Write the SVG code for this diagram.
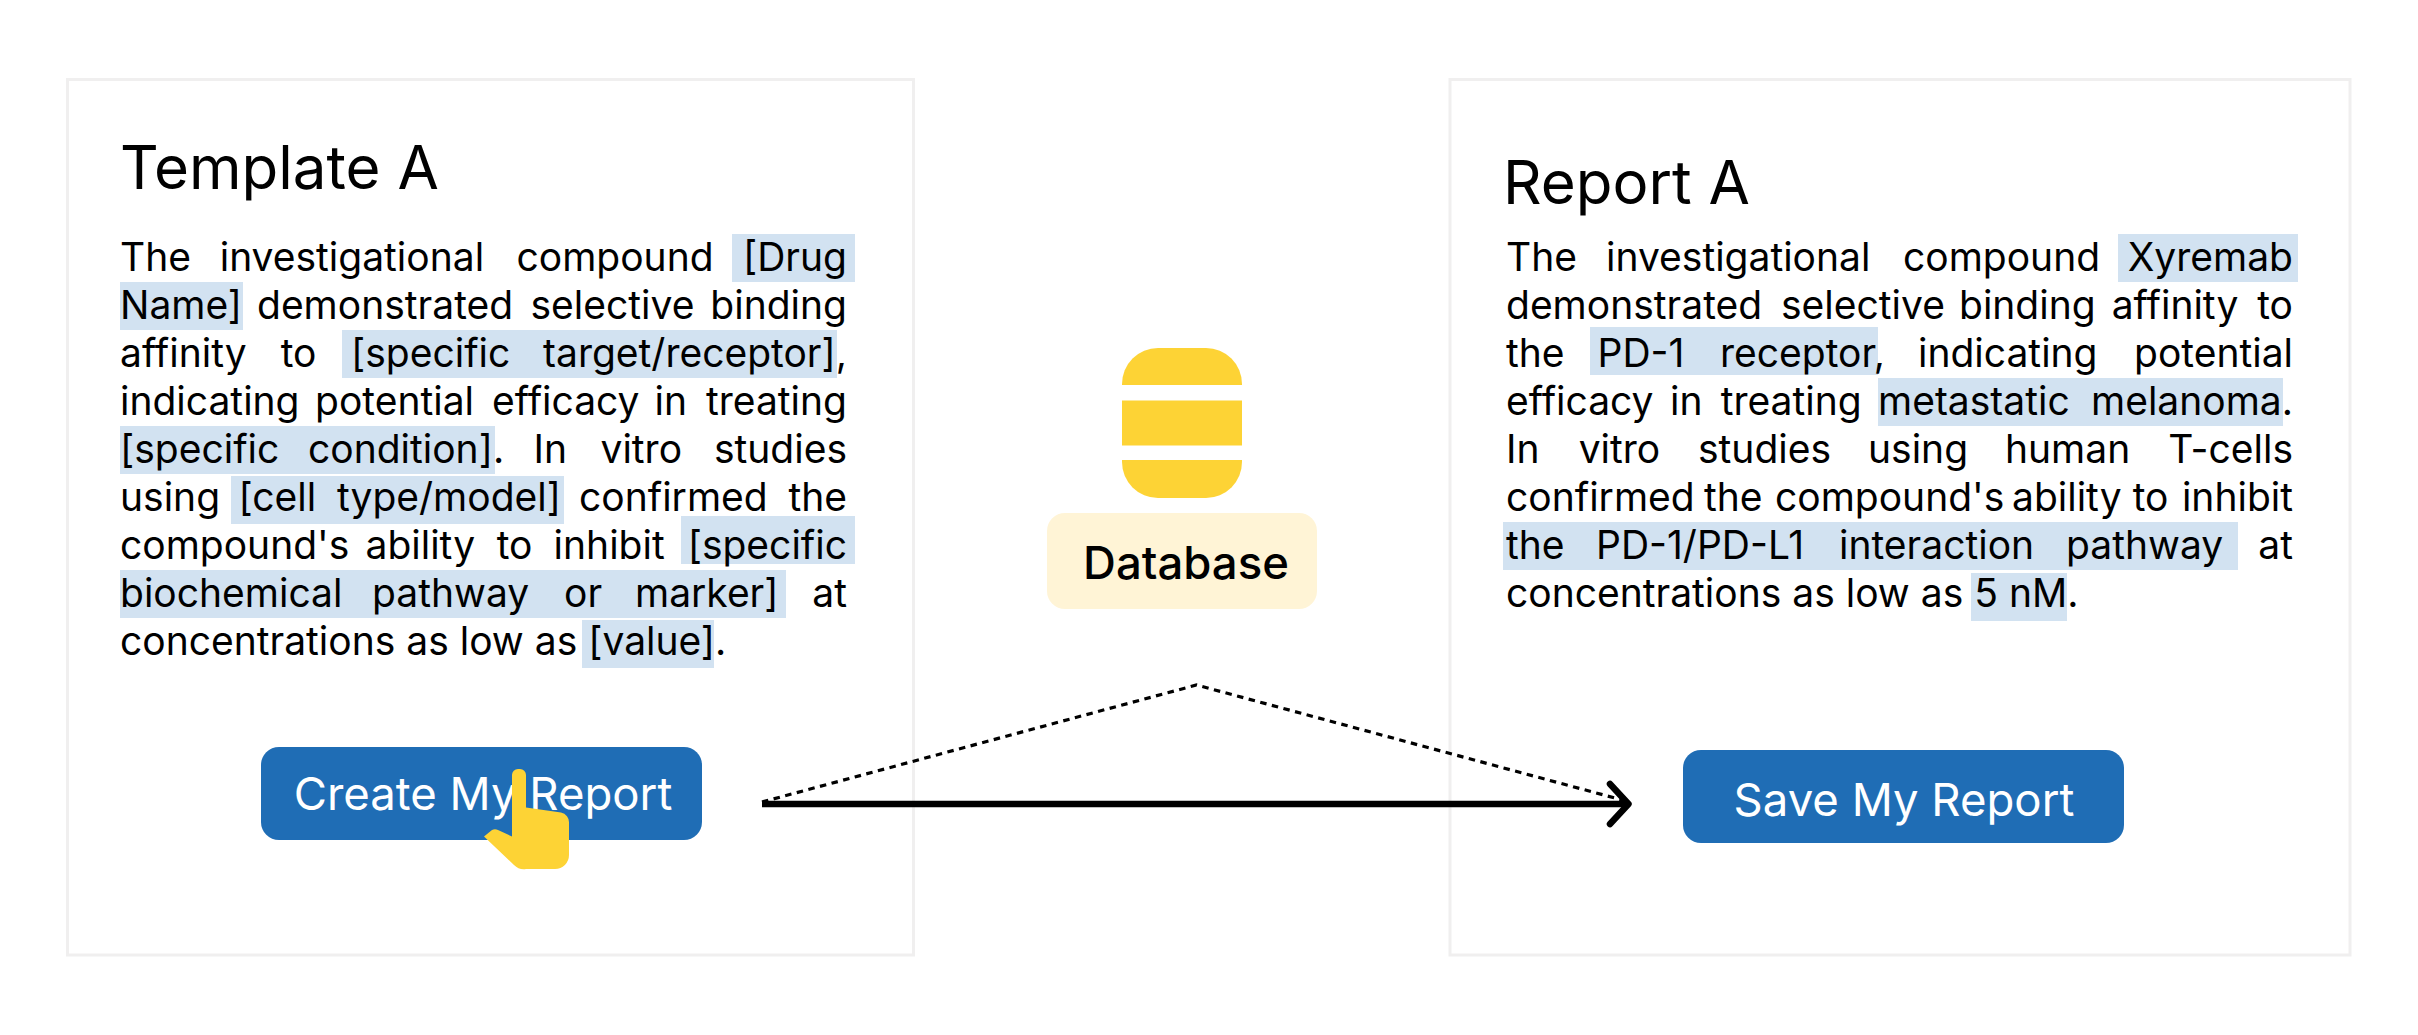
<svg xmlns="http://www.w3.org/2000/svg" width="2418" height="1035" viewBox="0 0 2418 1035">
<style>
text{font-family:Inter,"Noto Sans","Liberation Sans",sans-serif;fill:#000}
.card{fill:#fff;stroke:#f0efef;stroke-width:3}
.hl{fill:#d2e2f1}
.body{font-size:39px}
.end{text-anchor:end}
.title{font-size:60px}
.btn{fill:#1f6db5}
.btnt{font-size:45.500px;fill:#fff}
.y{fill:#fdd335}
.dot{fill:none;stroke:#000;stroke-width:3.200;stroke-dasharray:6.500 5.500}
.sol{fill:none;stroke:#000;stroke-width:6.500}
.head{fill:none;stroke:#000;stroke-width:6.500;stroke-linecap:round;stroke-linejoin:round}
</style>
<rect width="2418" height="1035" fill="#fff"/>
<g id="template-card">
<rect class="card" x="67.500" y="79.500" width="846" height="875.500"/>
<text class="title" x="120" y="189">Template A</text>
<rect class="hl" x="732" y="234" width="123" height="48"/>
<rect class="hl" x="120" y="282" width="123" height="48"/>
<rect class="hl" x="342" y="330" width="495" height="48"/>
<rect class="hl" x="120" y="426" width="375" height="48"/>
<rect class="hl" x="231" y="476" width="333" height="48"/>
<rect class="hl" x="681" y="516" width="174" height="48"/>
<rect class="hl" x="120" y="570" width="666" height="48"/>
<rect class="hl" x="582" y="620" width="132" height="48"/>
<g class="body">
<text class="body" y="271"><tspan x="120">The</tspan> <tspan x="219.700">investigational</tspan> <tspan x="516.500">compound</tspan></text><text class="body end" x="847" y="271">[Drug</text>
<text class="body" y="319"><tspan x="120">Name]</tspan> <tspan x="257">demonstrated</tspan> <tspan x="530.500">selective</tspan></text><text class="body end" x="847" y="319">binding</text>
<text class="body" y="367"><tspan x="120">affinity</tspan> <tspan x="280.700">to</tspan> <tspan x="351">[specific</tspan></text><text class="body end" x="847" y="367">target/receptor],</text>
<text class="body" y="415"><tspan x="120">indicating</tspan> <tspan x="315">potential</tspan> <tspan x="492">efficacy</tspan> <tspan x="654.600">in</tspan></text><text class="body end" x="847" y="415">treating</text>
<text class="body" y="463"><tspan x="120">[specific</tspan> <tspan x="308">condition].</tspan> <tspan x="533.500">In</tspan> <tspan x="600.500">vitro</tspan></text><text class="body end" x="847" y="463">studies</text>
<text class="body" y="511"><tspan x="120">using</tspan> <tspan x="238.500">[cell</tspan> <tspan x="337">type/model]</tspan> <tspan x="579">confirmed</tspan></text><text class="body end" x="847" y="511">the</text>
<text class="body" y="559"><tspan x="120">compound's</tspan> <tspan x="365.500">ability</tspan> <tspan x="496.700">to</tspan> <tspan x="553.600">inhibit</tspan></text><text class="body end" x="847" y="559">[specific</text>
<text class="body" y="607"><tspan x="120">biochemical</tspan> <tspan x="372">pathway</tspan> <tspan x="564">or</tspan> <tspan x="635">marker]</tspan></text><text class="body end" x="847" y="607">at</text>
<text class="body" x="120" y="655">concentrations as low as [value].</text>
</g>
</g>
<g id="report-card">
<rect class="card" x="1450" y="79.500" width="900" height="875.500"/>
<text class="title" x="1503" y="204">Report A</text>
<rect class="hl" x="2118" y="234" width="180" height="48"/>
<rect class="hl" x="1590" y="327" width="288" height="48"/>
<rect class="hl" x="1878" y="378" width="405" height="48"/>
<rect class="hl" x="1503" y="522" width="735" height="48"/>
<rect class="hl" x="1971" y="573" width="96" height="48"/>
<g class="body">
<text class="body" y="271"><tspan x="1506">The</tspan> <tspan x="1606">investigational</tspan> <tspan x="1903">compound</tspan></text><text class="body end" x="2293" y="271">Xyremab</text>
<text class="body" y="319"><tspan x="1506">demonstrated</tspan> <tspan x="1781">selective</tspan> <tspan x="1959">binding</tspan> <tspan x="2111.700">affinity</tspan></text><text class="body end" x="2293" y="319">to</text>
<text class="body" y="367"><tspan x="1506">the</tspan> <tspan x="1597.500">PD-1</tspan> <tspan x="1720">receptor,</tspan> <tspan x="1918">indicating</tspan></text><text class="body end" x="2293" y="367">potential</text>
<text class="body" y="415"><tspan x="1506">efficacy</tspan> <tspan x="1670">in</tspan> <tspan x="1720.700">treating</tspan> <tspan x="1878">metastatic</tspan></text><text class="body end" x="2293" y="415">melanoma.</text>
<text class="body" y="463"><tspan x="1506">In</tspan> <tspan x="1578.700">vitro</tspan> <tspan x="1698">studies</tspan> <tspan x="1868">using</tspan> <tspan x="2005">human</tspan></text><text class="body end" x="2293" y="463">T-cells</text>
<text class="body" y="511"><tspan x="1506">confirmed</tspan> <tspan x="1704">the</tspan> <tspan x="1775">compound's</tspan> <tspan x="2012">ability</tspan> <tspan x="2132.700">to</tspan></text><text class="body end" x="2293" y="511">inhibit</text>
<text class="body" y="559"><tspan x="1506">the</tspan> <tspan x="1596">PD-1/PD-L1</tspan> <tspan x="1839">interaction</tspan> <tspan x="2066">pathway</tspan></text><text class="body end" x="2293" y="559">at</text>
<text class="body" x="1506" y="607">concentrations as low as 5 nM.</text>
</g>
</g>
<g id="database">
<path class="y" d="M1122 385V384A36 36 0 0 1 1158 348H1206A36 36 0 0 1 1242 384V385Z"/>
<rect class="y" x="1122" y="400.500" width="120" height="45"/>
<path class="y" d="M1122 460H1242V462A36 36 0 0 1 1206 498H1158A36 36 0 0 1 1122 462Z"/>
<rect x="1047" y="513" width="270" height="96" rx="18" fill="#fff4d6"/>
<text x="1186" y="579" font-size="45.500" font-weight="500" text-anchor="middle">Database</text>
</g>
<g id="create-button">
<rect class="btn" x="261" y="747" width="441" height="93" rx="18"/>
<text class="btnt" x="483" y="810" text-anchor="middle">Create My Report</text>
</g>
<g id="save-button">
<rect class="btn" x="1683" y="750" width="441" height="93" rx="18"/>
<text class="btnt" x="1904" y="816" text-anchor="middle">Save My Report</text>
</g>
<g id="connectors">
<path class="dot" d="M762 802L1196.500 685L1626 801"/>
<path class="sol" d="M762 804H1628"/>
<path class="head" d="M1610 784L1628.500 804L1610 824"/>
</g>
<g id="hand-cursor">
<path class="y" d="M512 775A6 6 0 0 1 518 769H520A6 6 0 0 1 526 775V807.500L561 812.500A10 10 0 0 1 569 823V855A14 14 0 0 1 555 869H526A14 14 0 0 1 514 865L484 836.500L492 830A6 6 0 0 1 498 830L512 836.500Z"/>
</g>
</svg>
